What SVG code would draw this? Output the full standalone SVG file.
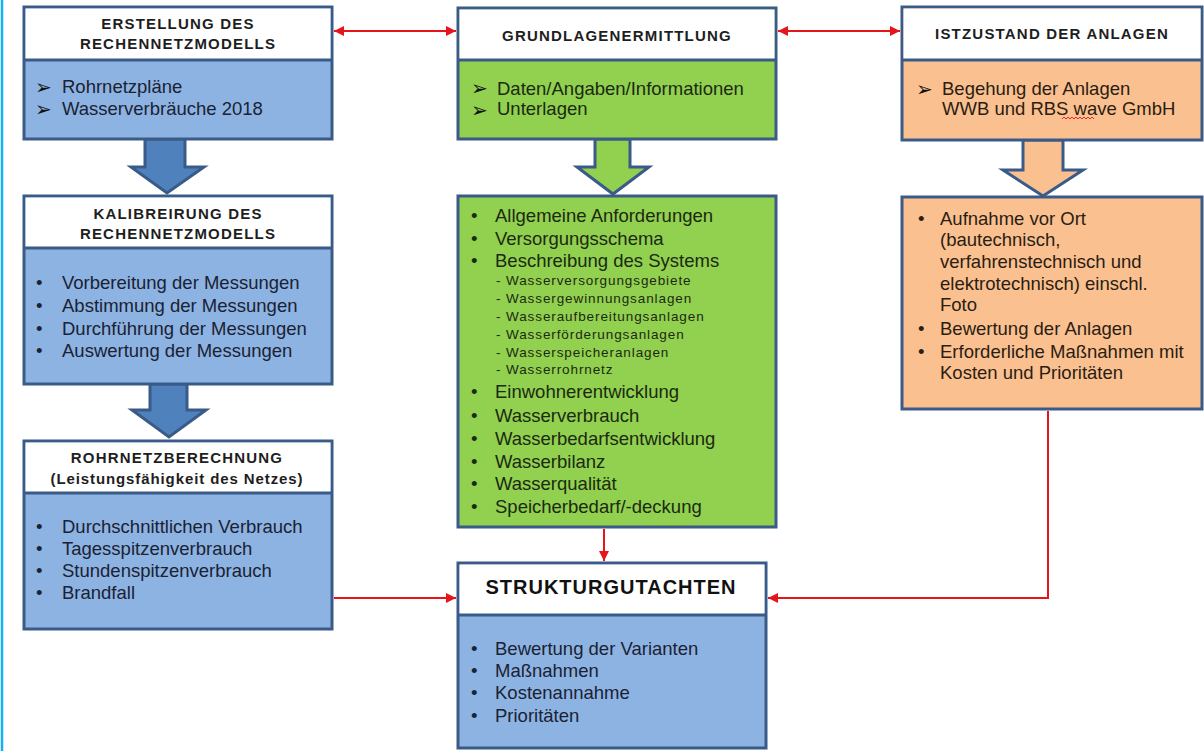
<svg xmlns="http://www.w3.org/2000/svg" width="1204" height="751" viewBox="0 0 1204 751">
<defs>
<style>
.box{stroke:#3a5a88;stroke-width:3}
.hdr{fill:#ffffff}
.blue{fill:#8db3e2}
.green{fill:#92d050}
.orange{fill:#fac090}
.div{stroke:#3a5a88;stroke-width:3}
.ht{font-family:"Liberation Sans",Arial,sans-serif;font-weight:bold;font-size:15px;fill:#1e1e1e;text-anchor:middle;letter-spacing:1.2px}
.bt{font-family:"Liberation Sans",Arial,sans-serif;font-size:18.5px;fill:#1a2233}
.gt{font-family:"Liberation Sans",Arial,sans-serif;font-size:18.5px;fill:#1b2a10}
.ot{font-family:"Liberation Sans",Arial,sans-serif;font-size:18.5px;fill:#2a1d12}
.st{font-family:"Liberation Sans",Arial,sans-serif;font-size:13.5px;fill:#1b2a10;letter-spacing:0.9px}
.ab{font-family:"DejaVu Sans",sans-serif;font-size:20px;font-weight:bold;fill:#111}
.bar{stroke:#3a5a88;stroke-width:3;stroke-linejoin:miter}
.red{stroke:#e8141c;stroke-width:2;fill:none}
</style>
<marker id="ah" viewBox="0 0 10 10" refX="10" refY="5" markerWidth="5" markerHeight="5" orient="auto-start-reverse" markerUnits="strokeWidth">
<path d="M0,0 L10,5 L0,10 z" fill="#e8141c"/>
</marker>
</defs>
<rect width="1204" height="751" fill="#ffffff"/>
<line x1="2" y1="0" x2="2" y2="751" stroke="#16b0ee" stroke-width="2.5"/>

<g id="connectors">
<line class="red" x1="334" y1="31" x2="456" y2="31" marker-start="url(#ah)" marker-end="url(#ah)"/>
<line class="red" x1="778" y1="31" x2="900" y2="31" marker-start="url(#ah)" marker-end="url(#ah)"/>
<line class="red" x1="604" y1="529" x2="604" y2="561" marker-end="url(#ah)"/>
<line class="red" x1="334" y1="598" x2="456" y2="598" marker-end="url(#ah)"/>
<polyline class="red" points="1048,411 1048,598 768,598" marker-end="url(#ah)"/>
<polygon class="bar" fill="#4f81bd" points="145,139 185,139 185,167 204,167 167,193 131,167 145,167"/>
<polygon class="bar" fill="#4f81bd" points="150,384 187,384 187,410 206,410 169,437 132,410 150,410"/>
<polygon class="bar" fill="#92d050" points="595,139 630,139 630,167 649,167 613,194 577,167 595,167"/>
<polygon class="bar" fill="#fac090" points="1023,140 1063,140 1063,170 1083,170 1043,196 1003,170 1023,170"/>
</g>

<g id="erstellung">
<rect class="box blue" x="24" y="7" width="308" height="132"/>
<rect class="hdr" x="25.5" y="8.5" width="305" height="51.5"/>
<line class="div" x1="24" y1="60" x2="332" y2="60"/>
<text class="ht" x="178" y="29">ERSTELLUNG DES</text>
<text class="ht" x="178" y="49">RECHENNETZMODELLS</text>
<text class="ab" x="35" y="94">➢</text>
<text class="ab" x="35" y="116">➢</text>
<text class="bt" x="62" y="93">Rohrnetzpläne</text>
<text class="bt" x="62" y="115">Wasserverbräuche 2018</text>
</g>

<g id="kalibrierung">
<rect class="box blue" x="24" y="196" width="308" height="188"/>
<rect class="hdr" x="25.5" y="197.5" width="305" height="50.5"/>
<line class="div" x1="24" y1="248" x2="332" y2="248"/>
<text class="ht" x="178" y="219">KALIBREIRUNG DES</text>
<text class="ht" x="178" y="239">RECHENNETZMODELLS</text>
<text class="bt" x="36" y="289">•</text><text class="bt" x="62" y="289">Vorbereitung der Messungen</text>
<text class="bt" x="36" y="312">•</text><text class="bt" x="62" y="312">Abstimmung der Messungen</text>
<text class="bt" x="36" y="335">•</text><text class="bt" x="62" y="335">Durchführung der Messungen</text>
<text class="bt" x="36" y="357">•</text><text class="bt" x="62" y="357">Auswertung der Messungen</text>
</g>

<g id="rohrnetzberechnung">
<rect class="box blue" x="24" y="441" width="308" height="188"/>
<rect class="hdr" x="25.5" y="442.5" width="305" height="50.5"/>
<line class="div" x1="24" y1="493" x2="332" y2="493"/>
<text class="ht" x="177" y="463">ROHRNETZBERECHNUNG</text>
<text class="ht" x="177" y="484" style="letter-spacing:0.9px">(Leistungsfähigkeit des Netzes)</text>
<text class="bt" x="36" y="533">•</text><text class="bt" x="62" y="533">Durchschnittlichen Verbrauch</text>
<text class="bt" x="36" y="555">•</text><text class="bt" x="62" y="555">Tagesspitzenverbrauch</text>
<text class="bt" x="36" y="577">•</text><text class="bt" x="62" y="577">Stundenspitzenverbrauch</text>
<text class="bt" x="36" y="599">•</text><text class="bt" x="62" y="599">Brandfall</text>
</g>

<g id="grundlagen">
<rect class="box green" x="458" y="8" width="318" height="131"/>
<rect class="hdr" x="459.5" y="9.5" width="315" height="50.5"/>
<line class="div" x1="458" y1="60" x2="776" y2="60"/>
<text class="ht" x="617" y="41">GRUNDLAGENERMITTLUNG</text>
<text class="ab" x="471" y="95">➢</text>
<text class="ab" x="471" y="117">➢</text>
<text class="gt" x="497" y="95">Daten/Angaben/Informationen</text>
<text class="gt" x="497" y="115">Unterlagen</text>
</g>

<g id="grundlagen-details">
<rect class="box green" x="458" y="196" width="318" height="331"/>
<text class="gt" x="471" y="222">•</text><text class="gt" x="495" y="222">Allgemeine Anforderungen</text>
<text class="gt" x="471" y="245">•</text><text class="gt" x="495" y="245">Versorgungsschema</text>
<text class="gt" x="471" y="267">•</text><text class="gt" x="495" y="267">Beschreibung des Systems</text>
<text class="st" x="496" y="285">- Wasserversorgungsgebiete</text>
<text class="st" x="496" y="303">- Wassergewinnungsanlagen</text>
<text class="st" x="496" y="321">- Wasseraufbereitungsanlagen</text>
<text class="st" x="496" y="339">- Wasserförderungsanlagen</text>
<text class="st" x="496" y="357">- Wasserspeicheranlagen</text>
<text class="st" x="496" y="374">- Wasserrohrnetz</text>
<text class="gt" x="471" y="398">•</text><text class="gt" x="495" y="398">Einwohnerentwicklung</text>
<text class="gt" x="471" y="422">•</text><text class="gt" x="495" y="422">Wasserverbrauch</text>
<text class="gt" x="471" y="445">•</text><text class="gt" x="495" y="445">Wasserbedarfsentwicklung</text>
<text class="gt" x="471" y="468">•</text><text class="gt" x="495" y="468">Wasserbilanz</text>
<text class="gt" x="471" y="490">•</text><text class="gt" x="495" y="490">Wasserqualität</text>
<text class="gt" x="471" y="513">•</text><text class="gt" x="495" y="513">Speicherbedarf/-deckung</text>
</g>

<g id="istzustand">
<rect class="box orange" x="902" y="7" width="300" height="133"/>
<rect class="hdr" x="903.5" y="8.5" width="297" height="51.5"/>
<line class="div" x1="902" y1="60" x2="1202" y2="60"/>
<text class="ht" x="1052" y="39">ISTZUSTAND DER ANLAGEN</text>
<text class="ab" x="916" y="96">➢</text>
<text class="ot" x="942" y="95">Begehung der Anlagen</text>
<text class="ot" x="942" y="115">WWB und RBS wave GmbH</text>
<path d="M1062,119 l2,-2 l2,2 l2,-2 l2,2 l2,-2 l2,2 l2,-2 l2,2 l2,-2 l2,2 l2,-2 l2,2 l2,-2 l2,2 l2,-2 l2,2" fill="none" stroke="#e8141c" stroke-width="0.9"/>
</g>

<g id="istzustand-details">
<rect class="box orange" x="902" y="197" width="300" height="212"/>
<text class="ot" x="918" y="225">•</text><text class="ot" x="940" y="225">Aufnahme vor Ort</text>
<text class="ot" x="940" y="246">(bautechnisch,</text>
<text class="ot" x="940" y="268">verfahrenstechnisch und</text>
<text class="ot" x="940" y="290">elektrotechnisch) einschl.</text>
<text class="ot" x="940" y="311">Foto</text>
<text class="ot" x="918" y="335">•</text><text class="ot" x="940" y="335">Bewertung der Anlagen</text>
<text class="ot" x="918" y="358">•</text><text class="ot" x="940" y="358">Erforderliche Maßnahmen mit</text>
<text class="ot" x="940" y="379">Kosten und Prioritäten</text>
</g>

<g id="strukturgutachten">
<rect class="box blue" x="458" y="563" width="308" height="185"/>
<rect class="hdr" x="459.5" y="564.5" width="305" height="50.5"/>
<line class="div" x1="458" y1="615" x2="766" y2="615"/>
<text class="ht" x="611" y="594" style="font-size:20px;letter-spacing:1px;fill:#111">STRUKTURGUTACHTEN</text>
<text class="bt" x="471" y="655">•</text><text class="bt" x="495" y="655">Bewertung der Varianten</text>
<text class="bt" x="471" y="677">•</text><text class="bt" x="495" y="677">Maßnahmen</text>
<text class="bt" x="471" y="699">•</text><text class="bt" x="495" y="699">Kostenannahme</text>
<text class="bt" x="471" y="722">•</text><text class="bt" x="495" y="722">Prioritäten</text>
</g>
</svg>
